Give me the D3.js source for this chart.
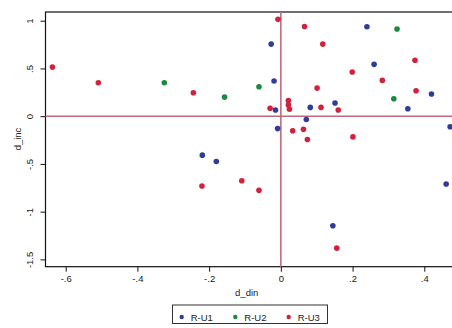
<!DOCTYPE html>
<html>
<head>
<meta charset="utf-8">
<script src="https://cdn.jsdelivr.net/npm/d3@7"></script>
<style>
	body { margin: 0; background: #fff; }
	text { font-family: "Liberation Sans", Arial, sans-serif; fill: #1a1a1a; }
</style>
</head>
<body>
<div id="chart"></div>
<script>
// values: [d_din, d_inc]
const ru1 = [
	[-0.027, 0.755], [-0.019, 0.368], [-0.015, 0.064], [0.082, 0.092],
	[0.071, -0.034], [-0.009, -0.130], [0.240, 0.937], [0.260, 0.543],
	[0.420, 0.232], [0.151, 0.138], [0.354, 0.078], [0.472, -0.111],
	[-0.219, -0.408], [-0.180, -0.474], [0.461, -0.711], [0.145, -1.148]
];
const ru2 = [
	[-0.325, 0.350], [-0.157, 0.200], [-0.061, 0.308], [0.324, 0.913],
	[0.315, 0.182]
];
const ru3 = [
	[-0.637, 0.514], [-0.509, 0.350], [-0.244, 0.245], [-0.008, 1.014],
	[0.066, 0.940], [0.117, 0.755], [0.374, 0.585], [0.199, 0.462],
	[0.283, 0.375], [0.101, 0.294], [0.377, 0.266], [-0.030, 0.083],
	[0.021, 0.163], [0.021, 0.118], [0.024, 0.072], [0.112, 0.092],
	[0.160, 0.064], [0.033, -0.153], [0.063, -0.138], [0.074, -0.245],
	[0.201, -0.217], [-0.109, -0.677], [-0.220, -0.732], [-0.061, -0.777],
	[0.156, -1.382]
];
const seriesNames = ["R-U1", "R-U2", "R-U3"];
const seriesColors = ["#2f3c9c", "#1c8a3e", "#d2213c"];
const xTicks = [-0.6, -0.4, -0.2, 0, 0.2, 0.4];
const xTickLabels = ["-.6", "-.4", "-.2", "0", ".2", ".4"];
const yTicks = [1, 0.5, 0, -0.5, -1, -1.5];
const yTickLabels = ["1", ".5", "0", "-.5", "-1", "-1.5"];

const W = 452, H = 328;
const plot = { left: 45.5, top: 12, right: 456, bottom: 266.7 };

const svg = d3.select("#chart")
	.append("svg")
	.attr("width", W)
	.attr("height", H);

const x = d3.scaleLinear().domain([-0.6, 0.4]).range([65.7, 424.3]);
const y = d3.scaleLinear().domain([-1.5, 1]).range([259.4, 20.7]);

// plot region frame
svg.append("rect")
	.attr("x", plot.left)
	.attr("y", plot.top)
	.attr("width", plot.right - plot.left)
	.attr("height", plot.bottom - plot.top)
	.style("fill", "white")
	.style("stroke", "#111")
	.style("stroke-width", 1.2);

// axes
const xAxis = svg.append("g")
	.attr("transform", `translate(0,${plot.bottom})`)
	.call(d3.axisBottom(x).tickValues(xTicks)
		.tickFormat((d, i) => xTickLabels[i])
		.tickSize(5).tickSizeOuter(0));
xAxis.select(".domain").remove();
xAxis.selectAll("text").style("font-size", "9.5px").attr("y", 9);

const yAxis = svg.append("g")
	.attr("transform", `translate(${plot.left},0)`)
	.call(d3.axisLeft(y).tickValues(yTicks)
		.tickFormat((d, i) => yTickLabels[i])
		.tickSize(5).tickSizeOuter(0));
yAxis.select(".domain").remove();
yAxis.selectAll("text")
	.style("font-size", "9.5px")
	.attr("x", 0)
	.attr("y", 0)
	.attr("dy", "0.35em")
	.attr("text-anchor", "middle")
	.attr("transform", "translate(-15.5,0) rotate(-90)");

svg.selectAll(".tick line").style("stroke", "#111");

// axis titles
svg.append("text")
	.attr("x", 246.7)
	.attr("y", 295.5)
	.attr("text-anchor", "middle")
	.style("font-size", "9.5px")
	.text("d_din");

svg.append("text")
	.attr("transform", "translate(21,139) rotate(-90)")
	.attr("text-anchor", "middle")
	.style("font-size", "9.5px")
	.text("d_inc");

// reference lines at zero
svg.append("line")
	.attr("x1", plot.left).attr("x2", plot.right)
	.attr("y1", y(0)).attr("y2", y(0))
	.style("stroke", "#c2687c")
	.style("stroke-width", 1.6);
svg.append("line")
	.attr("x1", x(0)).attr("x2", x(0))
	.attr("y1", plot.top).attr("y2", plot.bottom)
	.style("stroke", "#c2687c")
	.style("stroke-width", 1.6);

// points
[ru1, ru2, ru3].forEach((data, i) => {
	svg.append("g")
		.selectAll("circle")
		.data(data)
		.enter()
		.append("circle")
		.attr("cx", (d) => x(d[0]))
		.attr("cy", (d) => y(d[1]))
		.attr("r", 2.8)
		.style("fill", seriesColors[i]);
});

// legend
const legend = svg.append("g");
legend.append("rect")
	.attr("x", 172.5)
	.attr("y", 305)
	.attr("width", 155)
	.attr("height", 18.5)
	.style("fill", "white")
	.style("stroke", "#333")
	.style("stroke-width", 1);

const legendX = [181.7, 235.3, 288.7];
seriesNames.forEach((name, i) => {
	legend.append("circle")
		.attr("cx", legendX[i])
		.attr("cy", 317)
		.attr("r", 2.2)
		.style("fill", seriesColors[i]);
	legend.append("text")
		.attr("x", legendX[i] + 9)
		.attr("y", 320.5)
		.style("font-size", "9.5px")
		.text(name);
});
</script>
</body>
</html>
